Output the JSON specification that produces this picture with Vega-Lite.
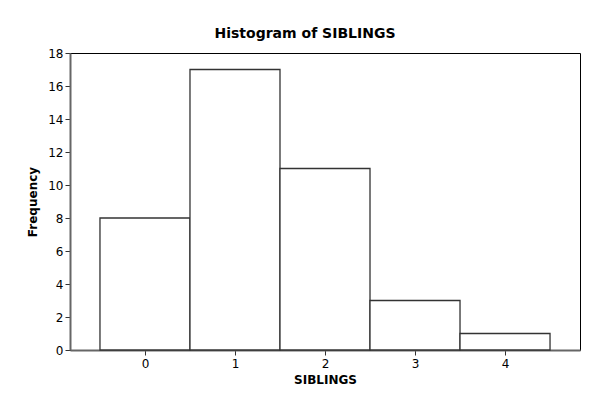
{
  "$schema": "https://vega.github.io/schema/vega-lite/v6.json",
  "width": 510,
  "height": 297,
  "autosize": {"type": "none"},
  "padding": {"left": 70, "top": 53, "right": 23, "bottom": 52},
  "background": "white",
  "title": {
    "text": "Histogram of SIBLINGS",
    "font": "DejaVu Sans",
    "fontSize": 14,
    "fontWeight": "bold",
    "color": "black",
    "anchor": "middle",
    "dx": -20,
    "offset": 6
  },
  "config": {
    "view": {"stroke": "black", "strokeWidth": 1},
    "axis": {
      "labelFont": "DejaVu Sans",
      "labelFontSize": 12,
      "labelColor": "black",
      "titleFont": "DejaVu Sans",
      "titleFontSize": 12,
      "titleFontWeight": "bold",
      "titleColor": "black",
      "grid": false,
      "domainColor": "#666666",
      "domainWidth": 2,
      "tickColor": "#333333",
      "tickSize": 5
    }
  },
  "data": {
    "values": [
      {"SIBLINGS": 0, "lo": -0.5, "hi": 0.5, "Frequency": 8},
      {"SIBLINGS": 1, "lo": 0.5, "hi": 1.5, "Frequency": 17},
      {"SIBLINGS": 2, "lo": 1.5, "hi": 2.5, "Frequency": 11},
      {"SIBLINGS": 3, "lo": 2.5, "hi": 3.5, "Frequency": 3},
      {"SIBLINGS": 4, "lo": 3.5, "hi": 4.5, "Frequency": 1}
    ]
  },
  "mark": {"type": "rect", "fill": "white", "stroke": "#333333", "strokeWidth": 1.3},
  "encoding": {
    "x": {
      "field": "lo",
      "type": "quantitative",
      "scale": {"domain": [-0.833, 4.833], "nice": false, "zero": false},
      "axis": {
        "title": "SIBLINGS",
        "values": [0, 1, 2, 3, 4],
        "format": "d",
        "labelPadding": 3,
        "titlePadding": 5
      }
    },
    "x2": {"field": "hi"},
    "y": {
      "field": "Frequency",
      "type": "quantitative",
      "scale": {"domain": [0, 18], "nice": false},
      "axis": {
        "title": "Frequency",
        "values": [0, 2, 4, 6, 8, 10, 12, 14, 16, 18],
        "labelPadding": 2,
        "titlePadding": 8
      }
    },
    "y2": {"datum": 0}
  }
}
